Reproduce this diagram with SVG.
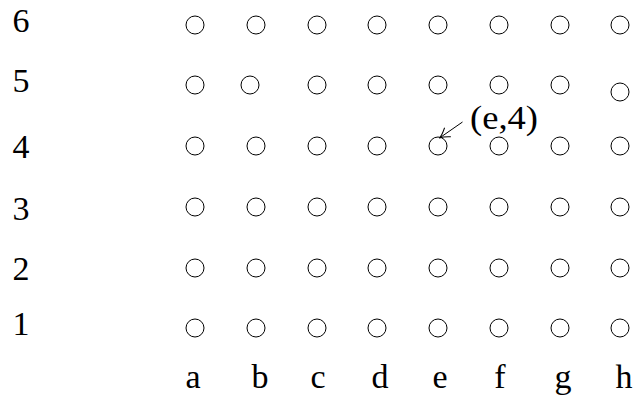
<svg xmlns="http://www.w3.org/2000/svg" width="637" height="400" viewBox="0 0 637 400">
<style>
.n{fill:none;stroke:#000;stroke-width:1}
.t{font-family:"Liberation Serif","DejaVu Serif",serif;font-size:34px;fill:#000}
.m{text-anchor:middle}
.c{fill:none;stroke:#000;stroke-width:1}
</style>
<defs>
<marker id="ah" markerWidth="14" markerHeight="14" refX="11" refY="7" orient="auto" markerUnits="userSpaceOnUse">
<path d="M1,1.5 Q7,6 11,7 Q7,8 1,12.5" fill="none" stroke="#000" stroke-width="1"/>
</marker>
</defs>
<rect width="637" height="400" fill="#fff"/>
<g id="row-labels">
<text class="t m" x="21" y="32">6</text>
<text class="t m" x="21" y="92">5</text>
<text class="t m" x="21" y="158">4</text>
<text class="t m" x="21" y="220">3</text>
<text class="t m" x="21" y="280">2</text>
<text class="t m" x="21" y="335">1</text>
</g>
<g id="col-labels">
<text class="t m" x="193" y="388">a</text>
<text class="t m" x="260" y="388">b</text>
<text class="t m" x="318" y="388">c</text>
<text class="t m" x="380" y="388">d</text>
<text class="t m" x="440" y="388">e</text>
<text class="t m" x="500" y="388">f</text>
<text class="t m" x="563" y="388">g</text>
<text class="t m" x="624" y="388">h</text>
</g>
<g id="row6">
<circle id="a6" class="n" cx="195" cy="25" r="9"/><circle id="b6" class="n" cx="256" cy="25" r="9"/><circle id="c6" class="n" cx="317" cy="25" r="9"/><circle id="d6" class="n" cx="377" cy="25" r="9"/><circle id="e6" class="n" cx="438" cy="25" r="9"/><circle id="f6" class="n" cx="499" cy="25" r="9"/><circle id="g6" class="n" cx="560" cy="25" r="9"/><circle id="h6" class="n" cx="620" cy="25" r="9"/>
</g>
<g id="row5">
<circle id="a5" class="n" cx="195" cy="85" r="9"/><circle id="b5" class="n" cx="250" cy="85" r="9"/><circle id="c5" class="n" cx="317" cy="85" r="9"/><circle id="d5" class="n" cx="377" cy="85" r="9"/><circle id="e5" class="n" cx="438" cy="85" r="9"/><circle id="f5" class="n" cx="499" cy="85" r="9"/><circle id="g5" class="n" cx="560" cy="85" r="9"/><circle id="h5" class="n" cx="620" cy="92" r="9"/>
</g>
<g id="row4">
<circle id="a4" class="n" cx="195" cy="146" r="9"/><circle id="b4" class="n" cx="256" cy="146" r="9"/><circle id="c4" class="n" cx="317" cy="146" r="9"/><circle id="d4" class="n" cx="377" cy="146" r="9"/><circle id="e4" class="n" cx="438" cy="146" r="9"/><circle id="f4" class="n" cx="499" cy="146" r="9"/><circle id="g4" class="n" cx="560" cy="146" r="9"/><circle id="h4" class="n" cx="620" cy="146" r="9"/>
</g>
<g id="row3">
<circle id="a3" class="n" cx="195" cy="207" r="9"/><circle id="b3" class="n" cx="256" cy="207" r="9"/><circle id="c3" class="n" cx="317" cy="207" r="9"/><circle id="d3" class="n" cx="377" cy="207" r="9"/><circle id="e3" class="n" cx="438" cy="207" r="9"/><circle id="f3" class="n" cx="499" cy="207" r="9"/><circle id="g3" class="n" cx="560" cy="207" r="9"/><circle id="h3" class="n" cx="620" cy="207" r="9"/>
</g>
<g id="row2">
<circle id="a2" class="n" cx="195" cy="268" r="9"/><circle id="b2" class="n" cx="256" cy="268" r="9"/><circle id="c2" class="n" cx="317" cy="268" r="9"/><circle id="d2" class="n" cx="377" cy="268" r="9"/><circle id="e2" class="n" cx="438" cy="268" r="9"/><circle id="f2" class="n" cx="499" cy="268" r="9"/><circle id="g2" class="n" cx="560" cy="268" r="9"/><circle id="h2" class="n" cx="620" cy="268" r="9"/>
</g>
<g id="row1">
<circle id="a1" class="n" cx="195" cy="328" r="9"/><circle id="b1" class="n" cx="256" cy="328" r="9"/><circle id="c1" class="n" cx="317" cy="328" r="9"/><circle id="d1" class="n" cx="377" cy="328" r="9"/><circle id="e1" class="n" cx="438" cy="328" r="9"/><circle id="f1" class="n" cx="499" cy="328" r="9"/><circle id="g1" class="n" cx="560" cy="328" r="9"/><circle id="h1" class="n" cx="620" cy="328" r="9"/>
</g>
<g id="label-e4">
<text class="t" x="470" y="129" textLength="68" lengthAdjust="spacingAndGlyphs">(e,4)</text>
</g>
<g id="connectors">
<line class="c" x1="462.5" y1="122" x2="439.5" y2="138" marker-end="url(#ah)"/>
</g>
</svg>
